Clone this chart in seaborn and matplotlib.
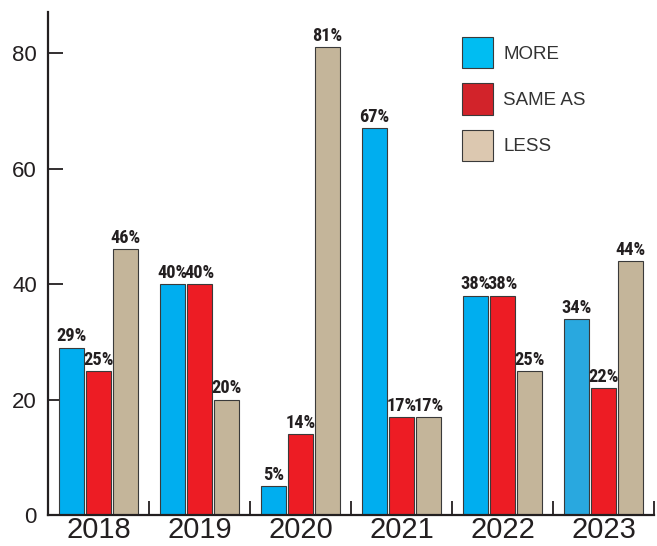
import matplotlib
matplotlib.use("Agg")
import matplotlib.pyplot as plt
from matplotlib.patches import Patch
from matplotlib import font_manager
import seaborn as sns
import pandas as pd

years = ["2018", "2019", "2020", "2021", "2022", "2023"]
more = [29, 40, 5, 67, 38, 34]
same_as = [25, 40, 14, 17, 38, 22]
less = [46, 20, 81, 17, 25, 44]
series = ["MORE", "SAME AS", "LESS"]

bar_colors = ["#00AEEF", "#ED1C24", "#C4B59A"]
legend_colors = ["#00BDF2", "#D2232A", "#DCC8B0"]
ink = "#231F20"

df = pd.DataFrame({
    "year": years * 3,
    "value": more + same_as + less,
    "series": [s for s in series for _ in years],
})

sns.set_style("white")
names = {f.name for f in font_manager.fontManager.ttflist}
narrow = "DejaVu Sans"
for cand in ["Roboto Condensed", "Archivo Narrow", "PT Sans Narrow",
             "Liberation Sans Narrow", "Arial Narrow", "Barlow Condensed",
             "Fira Sans Condensed", "Open Sans Condensed", "Encode Sans Condensed",
             "IBM Plex Sans Condensed", "Asap Condensed", "Oswald"]:
    if cand in names:
        narrow = cand
        break
plt.rcParams["font.family"] = ["Liberation Sans", "DejaVu Sans"]
plt.rcParams["ytick.direction"] = "in"
plt.rcParams["xtick.direction"] = "in"
plt.rcParams["ytick.left"] = True
plt.rcParams["xtick.bottom"] = True

fig = plt.figure(figsize=(6.57, 5.46), dpi=100)
ax = fig.add_axes([48 / 657, 31 / 546, 606 / 657, 503 / 546])

sns.barplot(data=df, x="year", y="value", hue="series", order=years,
            hue_order=series, palette=bar_colors, width=0.8, gap=0.07,
            edgecolor="#3a3a3a", linewidth=0.8, saturation=1, legend=False,
            ax=ax)

# the 2023 "more" bar is printed in a slightly softer blue
ax.containers[0].patches[5].set_facecolor("#29A8DF")

for cont in ax.containers:
    ax.bar_label(cont, fmt="%d%%", padding=1.5, fontsize=13.2,
                 fontweight="bold", family=narrow, color=ink)

ax.set_xlim(-0.5, 5.5)
ax.set_ylim(0, 87.1)
ax.set_yticks([0, 20, 40, 60, 80])
ax.set_xlabel("")
ax.set_ylabel("")

for side in ["top", "right"]:
    ax.spines[side].set_visible(False)
for side in ["left", "bottom"]:
    ax.spines[side].set_color(ink)
    ax.spines[side].set_linewidth(1.6)

ax.tick_params(axis="y", which="major", left=True, direction="in", length=11,
               width=1.3, color=ink, labelsize=16, labelcolor=ink, pad=8)
ax.tick_params(axis="x", which="major", bottom=True, length=0, labelsize=21,
               labelcolor=ink, pad=1)
# short upright separators between the year groups
ax.set_xticks([0.5, 1.5, 2.5, 3.5, 4.5, 5.5], minor=True)
ax.tick_params(axis="x", which="minor", bottom=True, direction="in",
               length=10, width=1.3, color=ink)

handles = [Patch(facecolor=c, edgecolor="#3a3a3a", linewidth=0.8)
           for c in legend_colors]
fig.legend(handles, series, loc="upper left",
           bbox_to_anchor=(462 / 657, 509 / 546), frameon=False,
           fontsize=13.5, labelcolor="#333333", handlelength=1.65,
           handleheight=2.2, labelspacing=0.8, handletextpad=0.55,
           borderpad=0, borderaxespad=0)

fig.savefig("out.png", dpi=100)
